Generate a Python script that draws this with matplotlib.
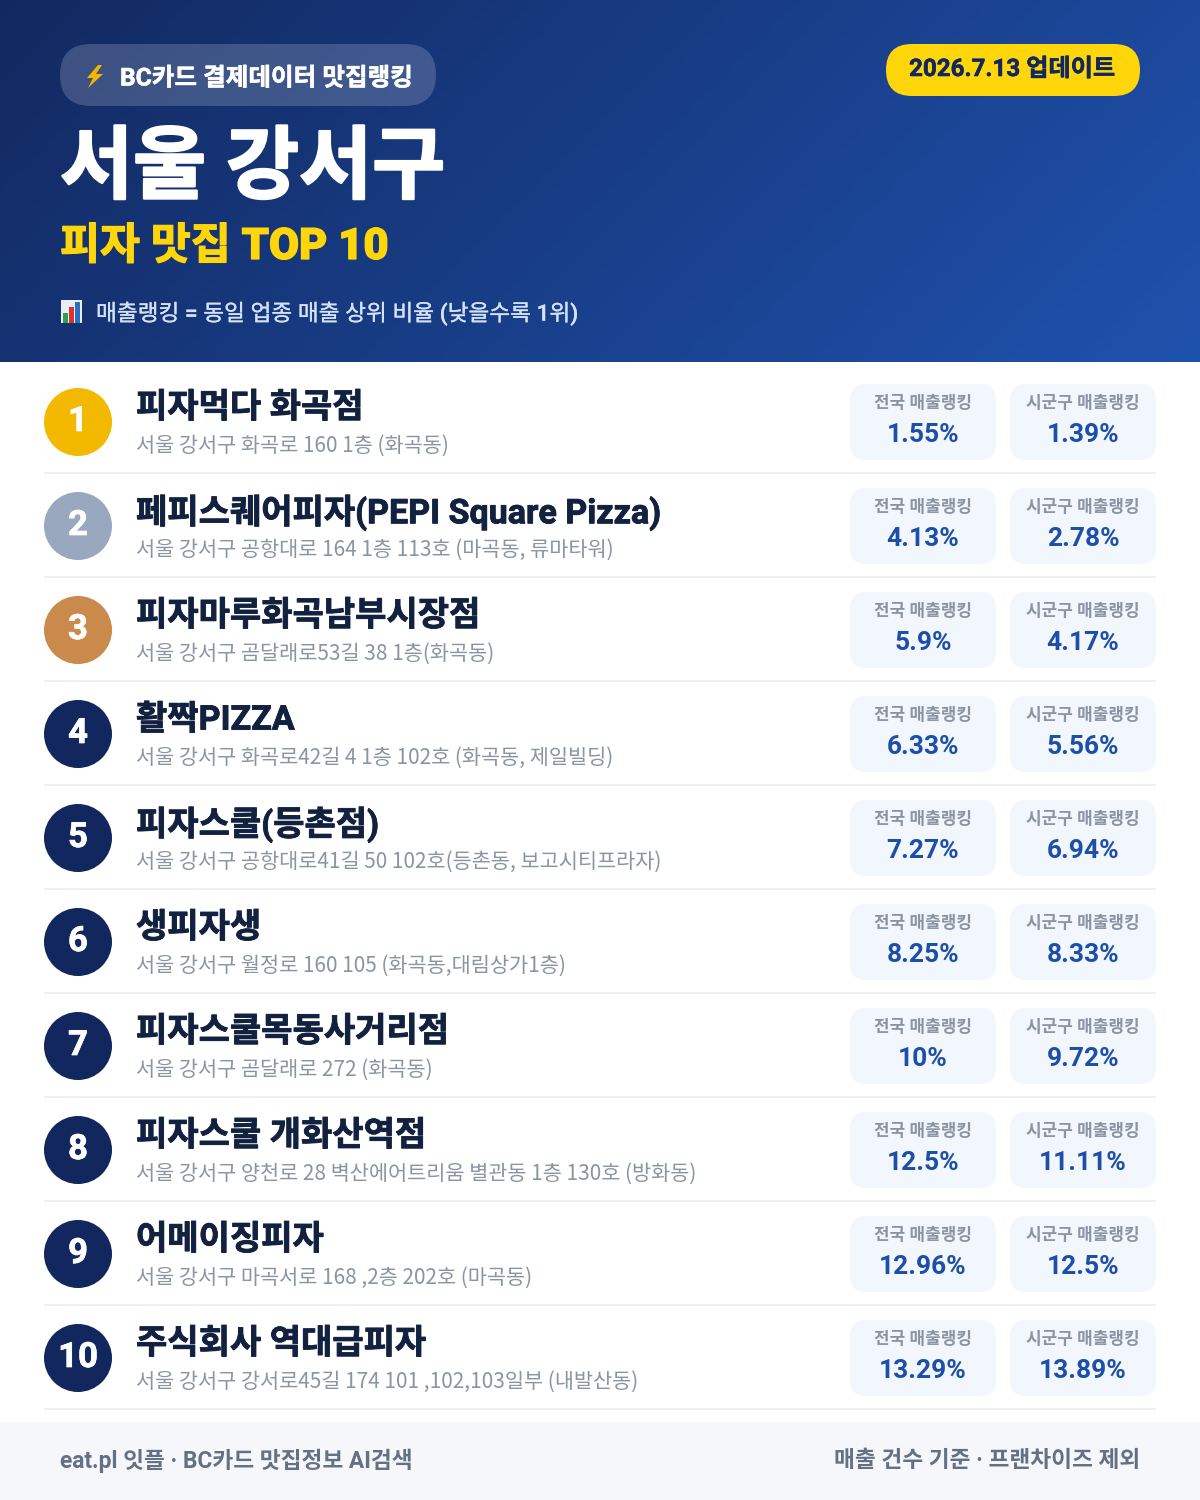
# BC card pizza ranking poster
import matplotlib
matplotlib.use('Agg')
import matplotlib.pyplot as plt
import matplotlib.patheffects as pe
from matplotlib.patches import FancyBboxPatch, Circle, Polygon, Rectangle
import numpy as np

# Latin and digits from Roboto, hangul falls through to Noto
plt.rcParams['font.family'] = ['Roboto', 'Noto Sans CJK KR', 'DejaVu Sans']

# data
ranks = [1, 2, 3, 4, 5, 6, 7, 8, 9, 10]
names = ['피자먹다 화곡점', '페피스퀘어피자(PEPI Square Pizza)', '피자마루화곡남부시장점', '활짝PIZZA',
         '피자스쿨(등촌점)', '생피자생', '피자스쿨목동사거리점', '피자스쿨 개화산역점', '어메이징피자', '주식회사 역대급피자']
addresses = ['서울 강서구 화곡로 160 1층 (화곡동)',
             '서울 강서구 공항대로 164 1층 113호 (마곡동, 류마타워)',
             '서울 강서구 곰달래로53길 38 1층(화곡동)',
             '서울 강서구 화곡로42길 4 1층 102호 (화곡동, 제일빌딩)',
             '서울 강서구 공항대로41길 50 102호(등촌동, 보고시티프라자)',
             '서울 강서구 월정로 160 105 (화곡동,대림상가1층)',
             '서울 강서구 곰달래로 272 (화곡동)',
             '서울 강서구 양천로 28 벽산에어트리움 별관동 1층 130호 (방화동)',
             '서울 강서구 마곡서로 168 ,2층 202호 (마곡동)',
             '서울 강서구 강서로45길 174 101 ,102,103일부 (내발산동)']
national = ['1.55%', '4.13%', '5.9%', '6.33%', '7.27%', '8.25%', '10%', '12.5%', '12.96%', '13.29%']
district = ['1.39%', '2.78%', '4.17%', '5.56%', '6.94%', '8.33%', '9.72%', '11.11%', '12.5%', '13.89%']
rank_colors = ['#f2b900', '#9aa8bf', '#c98a4b'] + ['#12275e'] * 7

fig = plt.figure(figsize=(12, 15), dpi=100)
ax = fig.add_axes([0, 0, 1, 1])

# header gradient
xx, yy = np.meshgrid(np.linspace(0, 1, 300), np.linspace(0, 1, 100))
t = (xx * 1200 + yy * 362) / (1200 + 362)
c0 = np.array([0x12, 0x29, 0x60]) / 255
c1 = np.array([0x1f, 0x52, 0xae]) / 255
grad = c0[None, None, :] + t[:, :, None] * (c1 - c0)[None, None, :]
ax.imshow(grad, extent=[0, 1200, 362, 0], aspect='auto', zorder=0)
ax.set_xlim(0, 1200)
ax.set_ylim(1500, 0)
ax.axis('off')


def pill(x0, y0, x1, y1, r, color, alpha=1.0):
    ax.add_patch(FancyBboxPatch((x0, y0), x1 - x0, y1 - y0, boxstyle='round,pad=0,rounding_size=%d' % r,
                                fc=color, ec='none', alpha=alpha, zorder=1))


def txt(x, y, s, size, color, weight='regular', ha='left', thick=0, family=None):
    t = ax.text(x, y, s, fontsize=size, color=color, fontweight=weight, ha=ha, va='center_baseline', zorder=3)
    if family:
        t.set_family(family)
    # the reference type is heavier than the installed cuts
    if thick:
        t.set_path_effects([pe.withStroke(linewidth=thick, foreground=color)])


# header
pill(60, 44, 436, 106, 31, '#ffffff', 0.18)
ax.add_patch(Polygon([(98, 65), (87, 78), (93, 78), (88, 88), (103, 74), (96, 74), (102, 65)],
                     fc='#f7b500', ec='none', zorder=3))
txt(120, 76, 'BC카드 결제데이터 맛집랭킹', 17.7, '#ffffff', 'bold', thick=0.4)
pill(886, 44, 1140, 96, 26, '#ffd60a')
txt(1012, 67, '2026.7.13 업데이트', 17.4, '#12275e', 'bold', ha='center', thick=0.4)
txt(60, 162, '서울 강서구', 57.2, '#ffffff', 'black', thick=1.6)
txt(60, 243, '피자 맛집 TOP 10', 31.3, '#ffd60a', 'black', thick=0.9)

# chart icon
ax.add_patch(Rectangle((61, 300), 21, 23, fc='#e8eef6', ec='none', zorder=2))
ax.add_patch(Rectangle((63, 313), 5, 10, fc='#2e9e4f', ec='none', zorder=3))
ax.add_patch(Rectangle((69, 307), 5, 16, fc='#d9342b', ec='none', zorder=3))
ax.add_patch(Rectangle((75, 302), 5, 21, fc='#2b6fc2', ec='none', zorder=3))
txt(96, 311, '매출랭킹 = 동일 업종 매출 상위 비율 (낮을수록 1위)', 16.3, '#d3e2f7', 'medium', thick=0.2)

# rows
for i, r in enumerate(ranks):
    y = 104 * i
    ax.add_patch(Circle((78, 422 + y), 34, fc=rank_colors[i], ec='none', zorder=2))
    txt(78, 418 + y, str(r), 25, '#ffffff', 'bold', ha='center', thick=0.5)
    txt(136, 405 + y, names[i], 24.5, '#12213f', 'bold', thick=0.6)
    txt(136, 443 + y, addresses[i], 15, '#8b94a3', family=['Noto Sans CJK KR', 'DejaVu Sans'])
    pill(850, 384 + y, 996, 460 + y, 16, '#f2f6fd')
    pill(1010, 384 + y, 1156, 460 + y, 16, '#f2f6fd')
    txt(923, 401 + y, '전국 매출랭킹', 12.2, '#8b94a3', 'bold', ha='center')
    txt(1083, 401 + y, '시군구 매출랭킹', 12.2, '#8b94a3', 'bold', ha='center')
    txt(923, 432 + y, national[i], 19, '#1e4fa8', 'bold', ha='center')
    txt(1083, 432 + y, district[i], 19, '#1e4fa8', 'bold', ha='center')
    ax.add_patch(Rectangle((44, 472 + y), 1112, 2, fc='#eef0f3', ec='none', zorder=1))

# footer
ax.add_patch(Rectangle((0, 1422), 1200, 78, fc='#f5f7fb', ec='none', zorder=1))
txt(60, 1458, 'eat.pl 잇플 · BC카드 맛집정보 AI검색', 16.35, '#667085', 'bold')
txt(1140, 1458, '매출 건수 기준 · 프랜차이즈 제외', 16.35, '#667085', 'bold', ha='right')

fig.savefig('out.png', dpi=100, facecolor='white')
